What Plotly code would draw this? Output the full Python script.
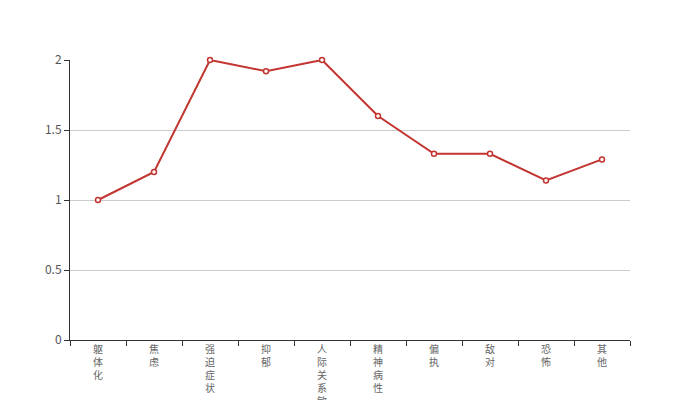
import plotly.graph_objects as go

categories = ["躯体化", "焦虑", "强迫症状", "抑郁", "人际关系敏感", "精神病性", "偏执", "敌对", "恐怖", "其他"]
scores = [1.0, 1.2, 2.0, 1.92, 2.0, 1.6, 1.33, 1.33, 1.14, 1.29]
y_ticks = [0, 0.5, 1, 1.5, 2]
y_tick_labels = ["0", "0.5", "1", "1.5", "2"]

# stack characters vertically, like the original chart's labels
vertical_labels = ["<br>".join(list(c)) for c in categories]

fig = go.Figure()

fig.add_trace(go.Scatter(
    x=categories,
    y=scores,
    mode="lines+markers",
    line=dict(color="#c23531", width=2),
    marker=dict(symbol="circle", size=5, color="#ffffff",
                line=dict(color="#c23531", width=1.5)),
    cliponaxis=False,
    hoverinfo="x+y",
    showlegend=False,
))

# page body has an 8px margin, so offsets are shifted to land the plot at 70..630 x 60..340
fig.update_layout(
    width=700,
    height=400,
    margin=dict(l=62, r=78, t=52, b=68),
    plot_bgcolor="#ffffff",
    paper_bgcolor="#ffffff",
    font=dict(family="Noto Sans CJK SC, sans-serif", size=12, color="#333"),
    xaxis=dict(
        type="category",
        tickmode="array",
        tickvals=categories,
        ticktext=vertical_labels,
        tickson="boundaries",
        ticks="outside",
        ticklen=5,
        tickcolor="#333",
        showline=True,
        linecolor="#333",
        linewidth=1,
        showgrid=False,
        automargin=False,
        tickfont=dict(size=10, color="#666"),
        range=[-0.5, len(categories) - 0.5],
        fixedrange=True,
    ),
    yaxis=dict(
        range=[0, 2],
        tickmode="array",
        tickvals=y_ticks,
        ticktext=y_tick_labels,
        ticks="outside",
        ticklen=5,
        tickcolor="#333",
        showline=True,
        linecolor="#333",
        linewidth=1,
        showgrid=True,
        gridcolor="#ccc",
        gridwidth=1,
        zeroline=False,
        automargin=False,
        tickfont=dict(size=12, color="#555"),
        fixedrange=True,
    ),
)

fig.write_html("out.html")
